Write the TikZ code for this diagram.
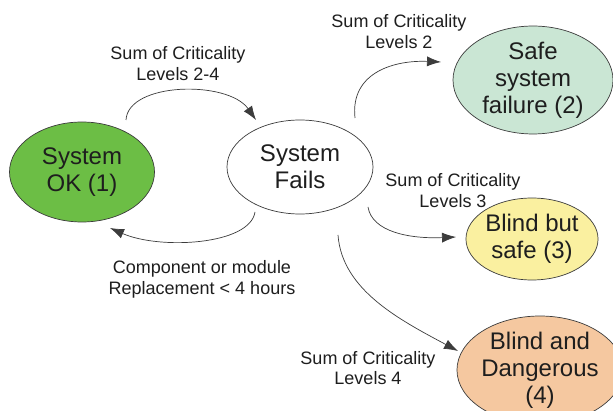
\documentclass[tikz,border=0pt]{standalone}
\usepackage{fontspec}
\setmainfont{Liberation Sans}
\usetikzlibrary{shapes.geometric,arrows.meta}
\definecolor{okgreen}{RGB}{108,190,69}
\definecolor{safegreen}{RGB}{202,230,212}
\definecolor{blindyellow}{RGB}{250,240,160}
\definecolor{dangerpeach}{RGB}{245,200,160}
\definecolor{txt}{RGB}{30,30,30}
\definecolor{edge}{RGB}{60,60,60}
\tikzset{
  state/.style={ellipse,draw=edge,line width=0.7pt,inner sep=0pt,align=center,
    text=txt,font=\fontsize{24}{27}\selectfont},
  lbl/.style={align=center,text=txt,font=\fontsize{18}{20.5}\selectfont,inner sep=0pt},
  trans/.style={draw=edge,line width=0.7pt,-{Latex[length=14pt,width=10pt]}}
}
\begin{document}
\begin{tikzpicture}[x=1pt,y=-1pt]
\clip (0,0) rectangle (613,411);
\fill[white] (0,0) rectangle (613,411);
\node[state,fill=okgreen,minimum width=145pt,minimum height=100pt] (ok) at (82,172) {System\\OK (1)};
\node[state,fill=white,minimum width=146pt,minimum height=94pt] (fails) at (300,167) {System\\Fails};
\node[state,fill=safegreen,minimum width=160pt,minimum height=100pt] (safe) at (533,80) {Safe\\system\\failure (2)};
\node[state,fill=blindyellow,minimum width=132pt,minimum height=82pt] (blind) at (532,239) {Blind but\\safe (3)};
\node[state,fill=dangerpeach,minimum width=146pt,minimum height=100pt] (danger) at (540,370) {Blind and\\Dangerous\\(4)};

\node[lbl] (l24) at (178,63.5) {Sum of Criticality\\Levels 2-4};
\node[lbl] (l2) at (399,31.5) {Sum of Criticality\\Levels 2};
\node[lbl] (l3) at (453,190.5) {Sum of Criticality\\Levels 3};
\node[lbl] (l4) at (368,368) {Sum of Criticality\\Levels 4};
\node[lbl] (lrep) at (202,279.5) {Component or module\\Replacement {<} 4 hours};

\coordinate (a1s) at (126,120);
\coordinate (a1e) at (256,120);
\coordinate (a2s) at (255,212);
\coordinate (a2e) at (110,228);
\coordinate (a3s) at (355,118);
\coordinate (a3e) at (441,62);
\coordinate (a4s) at (368,207);
\coordinate (a4e) at (456,237);
\coordinate (a5s) at (338,235);
\coordinate (a5e) at (458,351);

\draw[trans] (a1s) .. controls (128,82) and (228,80) .. (a1e);
\draw[trans] (a2s) .. controls (250,245) and (160,250) .. (a2e);
\draw[trans] (a3s) .. controls (350,72) and (395,60) .. (a3e);
\draw[trans] (a4s) .. controls (372,232) and (410,239) .. (a4e);
\draw[trans] (a5s) .. controls (342,290) and (400,320) .. (a5e);
\end{tikzpicture}
\end{document}
